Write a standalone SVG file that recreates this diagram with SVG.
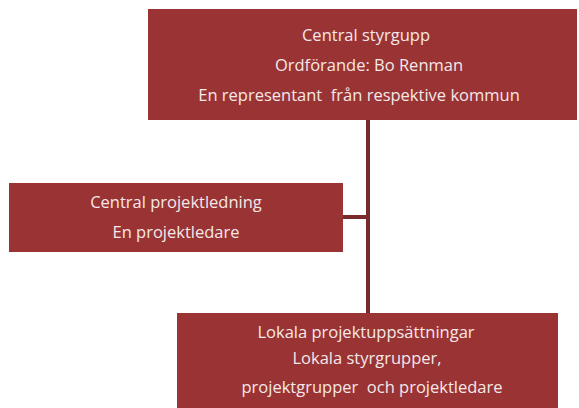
<svg xmlns="http://www.w3.org/2000/svg" width="579" height="408" viewBox="0 0 579 408">
<style>
.box{fill:#993334}
.t{font-family:"Open Sans","Liberation Sans",Arial,sans-serif;font-size:16.5px;fill:#f5e8e8;text-anchor:middle}
.c{stroke:#7a2a2c;stroke-width:4;fill:none}
</style>
<rect width="579" height="408" fill="#ffffff"/>
<g id="connectors">
<line class="c" x1="368" y1="120" x2="368" y2="313"/>
<line class="c" x1="343" y1="217" x2="368" y2="217"/>
</g>
<g id="central-styrgrupp">
<rect class="box" x="148" y="9" width="429" height="111"/>
<text class="t" x="366" y="41">Central styrgupp</text>
<text class="t" x="369" y="71">Ordförande: Bo Renman</text>
<text class="t" x="359" y="101" xml:space="preserve">En representant  från respektive kommun</text>
</g>
<g id="central-projektledning">
<rect class="box" x="9" y="183" width="334" height="69"/>
<text class="t" x="176" y="208">Central projektledning</text>
<text class="t" x="176" y="238">En projektledare</text>
</g>
<g id="lokala">
<rect class="box" x="177" y="313" width="381" height="95"/>
<text class="t" x="366" y="338">Lokala projektuppsättningar</text>
<text class="t" x="367" y="364">Lokala styrgrupper,</text>
<text class="t" x="372" y="393" xml:space="preserve">projektgrupper  och projektledare</text>
</g>
</svg>
